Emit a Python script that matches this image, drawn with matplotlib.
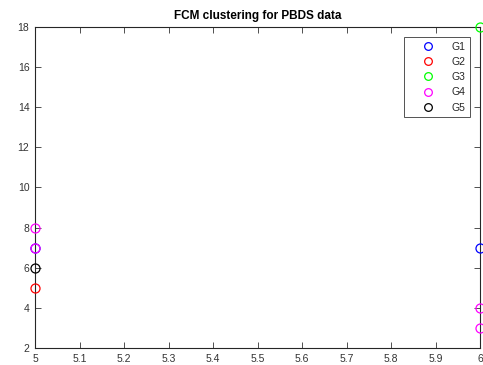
import matplotlib
matplotlib.use("Agg")
import matplotlib.pyplot as plt

# cluster members: (feature 1, feature 2)
g1_x = [5, 6]
g1_y = [7, 7]
g2_x = [5]
g2_y = [5]
g3_x = [6]
g3_y = [18]
g4_x = [5, 5, 6, 6]
g4_y = [7, 8, 4, 3]
g5_x = [5]
g5_y = [6]

groups = [
    ("G1", g1_x, g1_y, "#0000ff"),
    ("G2", g2_x, g2_y, "#ff0000"),
    ("G3", g3_x, g3_y, "#00ff00"),
    ("G4", g4_x, g4_y, "#ff00ff"),
    ("G5", g5_x, g5_y, "#000000"),
]

xticks = [5, 5.1, 5.2, 5.3, 5.4, 5.5, 5.6, 5.7, 5.8, 5.9, 6]
yticks = [2, 4, 6, 8, 10, 12, 14, 16, 18]

plt.rcParams["font.family"] = ["Liberation Sans", "DejaVu Sans"]

fig = plt.figure(figsize=(4.83, 3.65), dpi=100)
ax = fig.add_axes([35 / 483, 17 / 365, 445 / 483, 321 / 365])

for name, xs, ys, col in groups:
    ax.plot(xs, ys, linestyle="none", marker="o", markersize=6.5,
            markerfacecolor="none", markeredgecolor=col, markeredgewidth=0.9,
            label=name, clip_on=False, zorder=3)

ax.set_xlim(5, 6)
ax.set_ylim(2, 18)
ax.set_xticks(xticks)
ax.set_xticklabels(["5", "5.1", "5.2", "5.3", "5.4", "5.5", "5.6", "5.7", "5.8", "5.9", "6"])
ax.set_yticks(yticks)
ax.tick_params(direction="in", length=4, width=0.6, top=True, right=True,
               labelsize=7.5, colors="#333333", pad=4)
for s in ax.spines.values():
    s.set_linewidth(0.8)
    s.set_color("#262626")

ax.set_title("FCM clustering for PBDS data", fontsize=8.5, fontweight="bold", pad=6)

leg = ax.legend(loc="upper right", bbox_to_anchor=(470 / 483, (365 - 37) / 365),
                bbox_transform=fig.transFigure, borderaxespad=0,
                fontsize=7.5, frameon=True, fancybox=False, edgecolor="#262626",
                borderpad=0.45, labelspacing=0.5, handlelength=3.6,
                handletextpad=0.45, markerscale=0.85)
leg.get_frame().set_linewidth(0.7)
for t in leg.get_texts():
    t.set_color("#262626")

fig.savefig("out.png", dpi=100)
